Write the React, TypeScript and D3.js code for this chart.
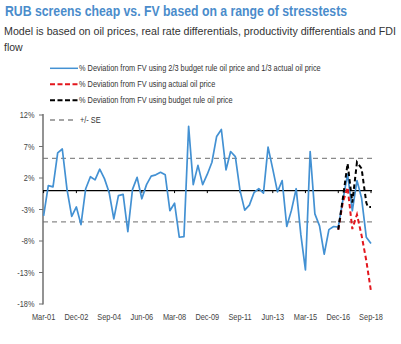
import React, { useLayoutEffect, useRef, useState } from "react";
import * as d3 from "d3";

// ---------- data ----------
const blueStart = "Mar-01"; // quarterly series start
const blueValues = [
  -4.0, 0.8, 0.6, 6.0, 6.6, 0.2, -4.1, -2.6, -5.4, 0.3, 2.2, 1.7, 3.4, 1.9, -0.3, -4.5,
  -0.8, -0.6, -6.5, 0.2, 2.1, -1.3, 0.95, 2.3, 2.5, 2.9, 2.5, -3.2, -2.0, -7.4, -7.3, 10.2,
  0.95, 4.0, 0.95, 2.6, 4.5, 8.6, 9.7, 3.3, 6.2, 5.4, 0.0, -3.1, -2.3, -0.3, 0.3, -0.4,
  6.9, 3.4, -0.2, 1.6, -5.7, -3.1, 0.3, -7.0, -12.6, 6.2, -3.7, -5.6, -10.1, -6.2, -5.7, -5.8,
  -1.5, 2.6, -3.2, 1.6, -1.2, -7.4, -8.4,
];

const redDates = ["Dec-16", "Mar-17", "Jun-17", "Sep-17", "Dec-17", "Mar-18", "Jun-18", "Sep-18"];
const redValues = [-6.2, -1.8, 0.5, -6.1, -3.8, -7.1, -11.1, -16.0];

const blackDates = ["Dec-16", "Mar-17", "Jun-17", "Sep-17", "Dec-17", "Mar-18", "Jun-18", "Jul-18", "Sep-18"];
const blackValues = [-6.2, -1.2, 4.3, -1.9, 4.5, 3.5, -1.9, -2.6, -2.6];

const seUpper = 5.1;
const seLower = -4.95;

const yTicks = [12, 7, 2, -3, -8, -13, -18];
const xTickLabels = ["Mar-01", "Dec-02", "Sep-04", "Jun-06", "Mar-08", "Dec-09", "Sep-11", "Jun-13", "Mar-15", "Dec-16", "Sep-18"];

const legendLabels = [
  "% Deviation from FV using 2/3 budget rule oil price and 1/3 actual oil price",
  "% Deviation from FV using actual oil price",
  "% Deviation from FV using budget rule oil price",
];
const seLabel = "+/- SE";
const title = "RUB screens cheap vs. FV based on a range of stresstests";
const subtitle1 = "Model is based on oil prices, real rate differentials, productivity differentials and FDI";
const subtitle2 = "flow";

// ---------- helpers ----------
const parse = d3.timeParse("%b-%y");

function FitText(props: { x: number; y: number; width: number; size: number; weight?: string; fill: string; children: string }) {
  const ref = useRef<SVGTextElement>(null);
  const [k, setK] = useState(0.82);
  useLayoutEffect(() => {
    if (ref.current) {
      const w = ref.current.getComputedTextLength();
      if (w > 0) setK(props.width / w);
    }
  }, [props.width, props.children]);
  return (
    <g transform={`translate(${props.x},${props.y}) scale(${k},1)`}>
      <text ref={ref} x={0} y={0} fontSize={props.size} fontWeight={props.weight} fill={props.fill}>{props.children}</text>
    </g>
  );
}

// ---------- chart ----------
export default function App() {
  const W = 401, H = 344;
  const x = d3.scaleTime()
    .domain([parse("Mar-01")!, parse("Sep-18")!])
    .range([43.6, 371]);
  const y = d3.scaleLinear().domain([-18, 12]).range([304, 115]);

  const start = parse(blueStart)!;
  const blue = blueValues.map((v, i) => ({ d: d3.timeMonth.offset(start, 3 * i), v }));
  const red = redValues.map((v, i) => ({ d: parse(redDates[i])!, v }));
  const black = blackValues.map((v, i) => ({ d: parse(blackDates[i])!, v }));

  const line = d3.line<{ d: Date; v: number }>()
    .x((p) => x(p.d))
    .y((p) => y(p.v));

  const blueC = "#4391d3";
  const redC = "#e3161d";
  const axisX0 = 43;
  const axisX1 = 372;
  const narrow = 0.82;
  const font = "'Liberation Sans', Arial, sans-serif";

  const legendY = [68.3, 84.3, 100.3];
  const legendColors = [blueC, redC, "#000"];

  return (
    <svg width={W} height={H} style={{ position: "absolute", left: 0, top: 0, background: "#fff" }} fontFamily={font}>
      <rect x={0} y={0} width={W} height={H} fill="#fff" />
      {/* title */}
      <FitText x={5} y={16} width={342} size={14} weight="bold" fill="#4a8ccb">{title}</FitText>
      <FitText x={4} y={35.3} width={392} size={11.5} fill="#333">{subtitle1}</FitText>
      <FitText x={4} y={50.7} width={18.7} size={11.5} fill="#333">{subtitle2}</FitText>

      {/* legend */}
      {legendLabels.map((lab, i) => (
        <g key={lab}>
          <line x1={50} x2={78} y1={legendY[i]} y2={legendY[i]} stroke={legendColors[i]}
            strokeWidth={i === 0 ? 1.5 : 2} strokeDasharray={i === 0 ? undefined : "5,2.5"} />
          <g transform={`translate(79,${legendY[i] + 3}) scale(${narrow},1)`}>
            <text x={0} y={0} fontSize={9} fill="#333">{lab}</text>
          </g>
        </g>
      ))}
      <line x1={50} x2={74} y1={120} y2={120} stroke="#888" strokeWidth={1.3} strokeDasharray="5,4" />
      <g transform={`translate(80,122.6) scale(${narrow},1)`}>
        <text x={0} y={0} fontSize={9} fill="#333">{seLabel}</text>
      </g>

      {/* SE lines */}
      {[seUpper, seLower].map((v) => (
        <line key={v} x1={axisX0} x2={axisX1} y1={y(v)} y2={y(v)} stroke="#8a8a8a" strokeWidth={1.3} strokeDasharray="5,4" />
      ))}

      {/* y axis */}
      <line x1={axisX0} x2={axisX0} y1={114} y2={304.5} stroke="#6f6f6f" strokeWidth={1.5} />
      {yTicks.map((t) => (
        <g key={t}>
          <line x1={axisX0 - 4} x2={axisX0} y1={y(t)} y2={y(t)} stroke="#6f6f6f" strokeWidth={1} />
          <g transform={`translate(34.5,${y(t) + 3}) scale(${narrow},1)`}>
            <text x={0} y={0} fontSize={9} fill="#444" textAnchor="end">{`${t}%`}</text>
          </g>
        </g>
      ))}

      {/* zero line with ticks */}
      <line x1={axisX0} x2={axisX1} y1={y(0)} y2={y(0)} stroke="#000" strokeWidth={1.3} />
      {xTickLabels.map((lab) => {
        const xx = x(parse(lab)!);
        return (
          <g key={lab}>
            <line x1={xx} x2={xx} y1={y(0)} y2={y(0) + 2.5} stroke="#000" strokeWidth={1} />
            <g transform={`translate(${xx},319.5) scale(${narrow},1)`}>
              <text x={0} y={0} fontSize={9} fill="#444" textAnchor="middle">{lab}</text>
            </g>
          </g>
        );
      })}

      {/* series */}
      <path d={line(blue)!} fill="none" stroke={blueC} strokeWidth={1.7} strokeLinejoin="round" />
      <path d={line(red)!} fill="none" stroke={redC} strokeWidth={2} strokeDasharray="4.5,3" />
      <path d={line(black)!} fill="none" stroke="#000" strokeWidth={2} strokeDasharray="4.5,3" />
    </svg>
  );
}
